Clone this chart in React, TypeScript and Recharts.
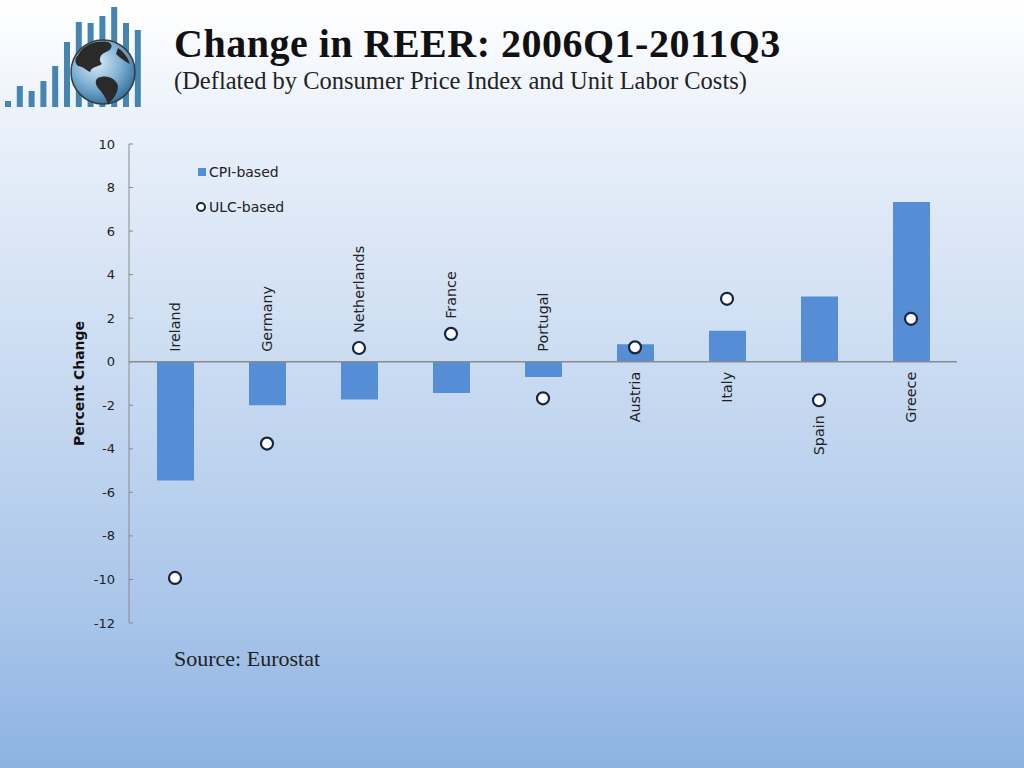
import React from 'react';
import { ComposedChart, Bar, Line, XAxis, YAxis, ReferenceLine, Legend, LabelList } from 'recharts';

const categories = ['Ireland', 'Germany', 'Netherlands', 'France', 'Portugal', 'Austria', 'Italy', 'Spain', 'Greece'];
const cpiBased = [-5.45, -2.0, -1.74, -1.44, -0.7, 0.8, 1.42, 3.0, 7.34];
const ulcBased = [-9.93, -3.76, 0.63, 1.28, -1.68, 0.66, 2.89, -1.77, 1.97];
const yTicks = [-12, -10, -8, -6, -4, -2, 0, 2, 4, 6, 8, 10];

const BAR_BLUE = '#558ed5';
const NAVY = '#17263f';
const AXIS_GRAY = '#8a8a8a';
const SANS = '"DejaVu Sans", Verdana, sans-serif';
const SERIF = '"Liberation Serif", Garamond, serif';

const data = categories.map((name, i) => ({ name, cpi: cpiBased[i], ulc: ulcBased[i] }));

// logo bar heights (decoration only)
const logoBars = [6, 21, 16, 26, 41, 65, 85, 84, 91, 100, 84, 77];

const Logo = () => (
  <g>
    <defs>
      <radialGradient id="globe" cx="40%" cy="35%" r="70%">
        <stop offset="0%" stopColor="#dceaf5" />
        <stop offset="55%" stopColor="#7fb0d4" />
        <stop offset="100%" stopColor="#2f6b97" />
      </radialGradient>
    </defs>
    {logoBars.map((h, i) => (
      <rect key={i} x={5 + i * 11.8} y={107 - h} width={6} height={h} fill="#4585b0" />
    ))}
    <circle cx={103} cy={72} r={32} fill="url(#globe)" stroke="#3a3a3a" strokeWidth={1.5} />
    <path
      d="M78,55 C84,44 96,40 108,42 C114,44 112,50 106,52 C100,54 98,60 102,64 C96,68 92,66 90,72 C86,70 82,66 78,66 C74,62 75,58 78,55 Z"
      fill="#2a2a2a"
    />
    <path d="M98,78 C106,74 116,78 118,86 C118,94 112,100 108,104 C106,98 102,92 98,88 C95,84 95,80 98,78 Z" fill="#2a2a2a" />
    <path d="M118,48 C124,52 128,58 130,64 C126,62 120,58 116,54 Z" fill="#2a2a2a" />
  </g>
);

const renderYTick = (props: any) => {
  const { x, y, payload } = props;
  return (
    <g>
      <line x1={x + 14} x2={x + 18} y1={y} y2={y} stroke={AXIS_GRAY} strokeWidth={1} />
      <text x={x} y={y} textAnchor="end" dominantBaseline="central" fontFamily={SANS} fontSize={13} fill="#222">
        {payload.value}
      </text>
    </g>
  );
};

// category names sit beside the zero line, moved clear of the ULC marker when it is on the same side
const renderCategoryLabel = (props: any) => {
  const { x, y, width, height, value, index } = props;
  const cx = x + width / 2;
  const top = Math.min(y, y + height);
  const bottom = Math.max(y, y + height);
  const neg = value < 0;
  const zeroY = neg ? top : bottom;
  const pxPerUnit = Math.abs(height) / Math.abs(value);
  const markerY = zeroY - ulcBased[index] * pxPerUnit;
  const ly = neg ? Math.min(zeroY + 5, markerY) - 15 : Math.max(zeroY - 5, markerY) + 15;
  return (
    <text
      x={cx}
      y={ly}
      transform={`rotate(-90 ${cx} ${ly})`}
      textAnchor={neg ? 'start' : 'end'}
      dominantBaseline="central"
      fontFamily={SANS}
      fontSize={14.3}
      fill="#222"
    >
      {categories[index]}
    </text>
  );
};

const UlcDot = (props: any) => {
  const { cx, cy } = props;
  if (cx == null || cy == null) return null;
  return <circle cx={cx} cy={cy} r={6} fill="#ffffff" stroke={NAVY} strokeWidth={2.2} />;
};

const renderLegend = () => (
  <svg width={120} height={60}>
    <rect x={3} y={8} width={8} height={8} fill={BAR_BLUE} />
    <text x={14} y={12} dominantBaseline="central" fontFamily={SANS} fontSize={14} fill="#222">
      CPI-based
    </text>
    <circle cx={6} cy={47} r={4} fill="#fff" stroke={NAVY} strokeWidth={2} />
    <text x={14} y={47} dominantBaseline="central" fontFamily={SANS} fontSize={14} fill="#222">
      ULC-based
    </text>
  </svg>
);

export default function App() {
  return (
    <div
      style={{
        position: 'fixed',
        left: 0,
        top: 0,
        width: 1024,
        height: 768,
        background: 'linear-gradient(to bottom, #ffffff 0%, #e6eef9 20%, #c8daf1 50%, #a9c5ea 80%, #8db3e2 100%)',
        overflow: 'hidden',
      }}
    >
      <svg width={1024} height={768} style={{ position: 'absolute', left: 0, top: 0 }}>
        <Logo />
        <text x={174} y={57} fontFamily={SERIF} fontWeight="bold" fontSize={40} letterSpacing={0.5} fill="#111">
          Change in REER: 2006Q1-2011Q3
        </text>
        <text x={174} y={89} fontFamily={SERIF} fontSize={24.5} fill="#222">
          (Deflated by Consumer Price Index and Unit Labor Costs)
        </text>
        <text x={174} y={666} fontFamily={SERIF} fontSize={22} fill="#222">
          Source: Eurostat
        </text>
      </svg>
      <div style={{ position: 'absolute', left: 0, top: 0 }}>
        <ComposedChart width={1024} height={768} data={data} margin={{ top: 144, right: 67, bottom: 145, left: 79 }}>
          <XAxis dataKey="name" hide />
          <YAxis
            width={50}
            domain={[-12, 10]}
            ticks={yTicks}
            interval={0}
            allowDataOverflow
            tickLine={false}
            tickSize={0}
            tickMargin={14}
            tick={renderYTick}
            axisLine={{ stroke: AXIS_GRAY, strokeWidth: 1 }}
            label={{
              content: (p: any) => {
                const vb = p.viewBox;
                const lx = vb.x;
                const ly = vb.y + vb.height / 2;
                return (
                  <text
                    x={lx}
                    y={ly}
                    transform={`rotate(-90 ${lx} ${ly})`}
                    textAnchor="middle"
                    dominantBaseline="central"
                    fontFamily={SANS}
                    fontWeight="bold"
                    fontSize={14}
                    fill="#111"
                  >
                    Percent Change
                  </text>
                );
              },
            }}
          />
          <ReferenceLine y={0} stroke={AXIS_GRAY} strokeWidth={1.5} />
          <Legend
            layout="vertical"
            verticalAlign="middle"
            align="center"
            content={renderLegend}
            wrapperStyle={{ top: 160, left: 195, width: 120, height: 60 }}
          />
          <Bar dataKey="cpi" name="CPI-based" fill={BAR_BLUE} barSize={37} isAnimationActive={false}>
            <LabelList dataKey="cpi" content={renderCategoryLabel} />
          </Bar>
          <Line
            dataKey="ulc"
            name="ULC-based"
            stroke="none"
            dot={<UlcDot />}
            activeDot={false}
            isAnimationActive={false}
          />
        </ComposedChart>
      </div>
    </div>
  );
}
